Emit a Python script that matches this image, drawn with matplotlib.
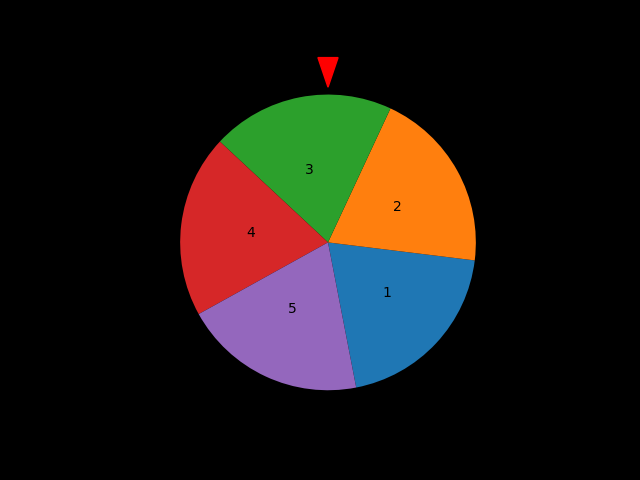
import matplotlib
matplotlib.use('Agg')
import matplotlib.pyplot as plt
from matplotlib.patches import Polygon

sizes = [1, 1, 1, 1, 1]
labels = ['1', '2', '3', '4', '5']
start_angle = -79

fig, ax = plt.subplots(figsize=(6.4, 4.8), dpi=100)
fig.patch.set_facecolor('black')
ax.set_facecolor('black')
ax.pie(sizes, labels=labels, startangle=start_angle, labeldistance=0.5)

# pointer at the top of the wheel
pointer = Polygon([(-0.068, 1.25), (0.068, 1.25), (0, 1.05)],
                  closed=True, color='red', clip_on=False)
ax.add_patch(pointer)

fig.savefig('out.png', facecolor=fig.get_facecolor())
